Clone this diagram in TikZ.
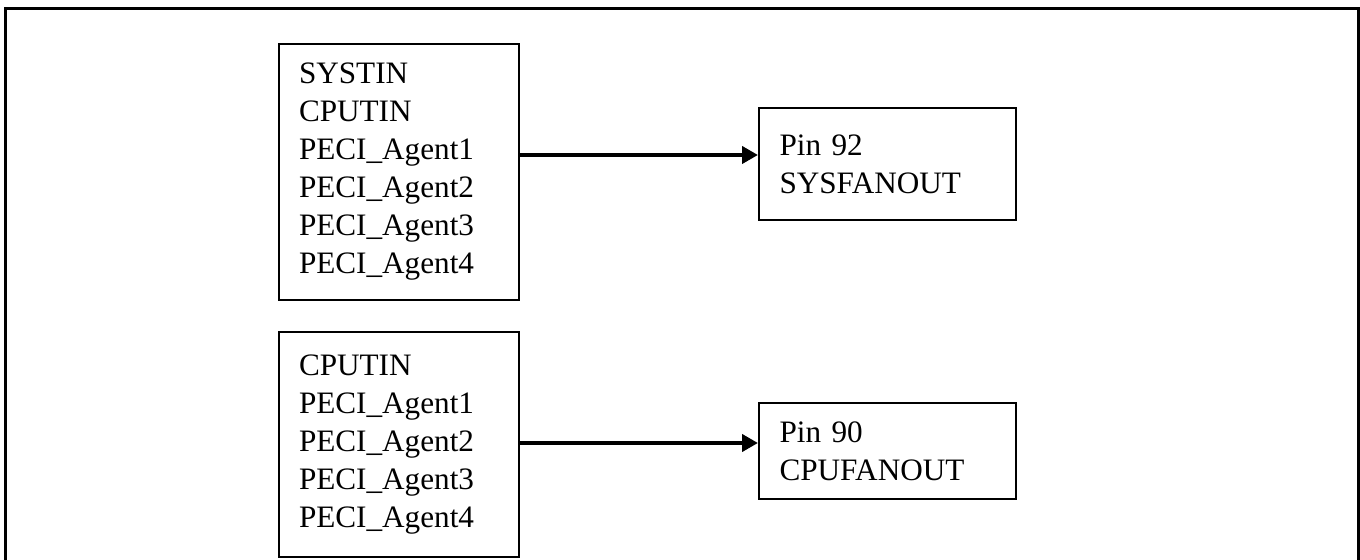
\documentclass[tikz,border=0pt]{standalone}
\usepackage{fontspec}
\setmainfont{Liberation Serif}
\usetikzlibrary{arrows.meta}

\tikzset{
  srcbox/.style={draw, line width=1pt, rectangle, anchor=north west, align=left,
    minimum width=120pt, text width=100pt, inner xsep=10pt,
    font={\fontsize{15.6pt}{19pt}\selectfont}},
  fanbox/.style={draw, line width=1pt, rectangle, anchor=north west, align=left,
    minimum width=128.5pt, text width=108pt, inner xsep=10.25pt,
    font={\fontsize{15.6pt}{19pt}\selectfont}},
  feed/.style={line width=2.2pt, -{Triangle[length=8pt,width=8.5pt]}}
}

\begin{document}
\begin{tikzpicture}[x=0.5pt, y=-0.5pt]
    \useasboundingbox (0,0) rectangle (1360,560);
    \clip (0,0) rectangle (1360,560);
    \draw[line width=1.5pt] (5.5,8.5) rectangle (1358.5,600);

    \node[srcbox, minimum height=128pt] (sens1) at (278,43) {SYSTIN\\CPUTIN\\PECI\_Agent1\\PECI\_Agent2\\PECI\_Agent3\\PECI\_Agent4};
    \node[srcbox, minimum height=112.5pt] (sens2) at (278,331) {CPUTIN\\PECI\_Agent1\\PECI\_Agent2\\PECI\_Agent3\\PECI\_Agent4};

    \node[fanbox, minimum height=56pt] (fan1) at (758,107) {Pin 92\\SYSFANOUT};
    \node[fanbox, minimum height=48pt] (fan2) at (758,402) {Pin 90\\CPUFANOUT};

    \coordinate (arr1) at (518,155);
    \coordinate (arr2) at (518,443);
    \draw[feed] (sens1.east |- arr1) -- (fan1.west |- arr1);
    \draw[feed] (sens2.east |- arr2) -- (fan2.west |- arr2);
\end{tikzpicture}
\end{document}
